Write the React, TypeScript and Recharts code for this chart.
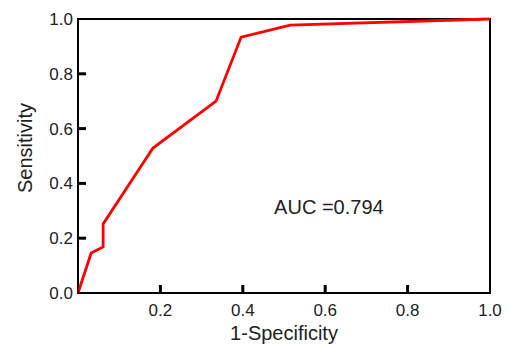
import { Label, Line, LineChart, ReferenceArea, ReferenceDot, XAxis, YAxis } from "recharts";

// ROC curve points
const fpr = [0, 0.032, 0.061, 0.061, 0.182, 0.335, 0.396, 0.515, 1];
const tpr = [0, 0.146, 0.168, 0.252, 0.529, 0.7, 0.934, 0.978, 1];

const xTicks = [0.2, 0.4, 0.6, 0.8, 1.0];
const yTicks = [0, 0.2, 0.4, 0.6, 0.8, 1.0];

const aucLabel = "AUC =0.794";
const aucPos = { x: 0.476, y: 0.29 };

const FONT = "'Liberation Sans', Arial, Helvetica, sans-serif";
const TEXT = "#222";
const TICK_LEN = 8;
const X_GAP = 11;
const Y_GAP = 5;

const data = fpr.map((x, i) => ({ x, y: tpr[i] }));

// tick label plus a short inward tick mark drawn from the axis line
function XTick({ x = 0, y = 0, payload }: any) {
  const axisY = y - X_GAP;
  const v = Number(payload?.value);
  return (
    <g>
      {v < 1 ? <line x1={x} x2={x} y1={axisY} y2={axisY - TICK_LEN} stroke="#000" strokeWidth={3} /> : null}
      <text x={x} y={y} dy="0.71em" textAnchor="middle" fill={TEXT} fontSize={17} fontFamily={FONT}>
        {v.toFixed(1)}
      </text>
    </g>
  );
}

function YTick({ x = 0, y = 0, payload }: any) {
  const axisX = x + Y_GAP;
  const v = Number(payload?.value);
  return (
    <g>
      {v > 0 && v < 1 ? <line x1={axisX} x2={axisX + TICK_LEN} y1={y} y2={y} stroke="#000" strokeWidth={3} /> : null}
      <text x={x} y={y} dy="0.355em" textAnchor="end" fill={TEXT} fontSize={17} fontFamily={FONT}>
        {v.toFixed(1)}
      </text>
    </g>
  );
}

export default function App() {
  return (
    <div style={{ position: "absolute", left: 0, top: 0, fontFamily: FONT }}>
      <LineChart width={507} height={345} data={data} margin={{ top: 19, right: 17, bottom: 0, left: 0 }}>
        <ReferenceArea x1={0} x2={1} y1={0} y2={1} stroke="#000" strokeWidth={2} fill="none" fillOpacity={0} />
        <XAxis
          dataKey="x"
          type="number"
          domain={[0, 1]}
          ticks={xTicks}
          height={52}
          tickSize={0}
          tickLine={false}
          tickMargin={X_GAP}
          stroke="#000"
          tick={<XTick />}
        >
          <Label value="1-Specificity" position="insideBottom" offset={5} fill={TEXT} fontSize={20} fontFamily={FONT} />
        </XAxis>
        <YAxis
          type="number"
          domain={[0, 1]}
          ticks={yTicks}
          width={78}
          tickSize={0}
          tickLine={false}
          tickMargin={Y_GAP}
          stroke="#000"
          tick={<YTick />}
        >
          <Label
            content={() => (
              <text
                x={25}
                y={148}
                transform="rotate(-90 25 148)"
                textAnchor="middle"
                dominantBaseline="central"
                fill={TEXT}
                fontSize={20}
                fontFamily={FONT}
              >
                Sensitivity
              </text>
            )}
          />
        </YAxis>
        <Line
          type="linear"
          dataKey="y"
          stroke="#ff0000"
          strokeWidth={2.8}
          dot={false}
          isAnimationActive={false}
        />
        <ReferenceDot
          x={aucPos.x}
          y={aucPos.y}
          r={0}
          stroke="none"
          fill="none"
          label={{
            content: (props: any) => {
              const vb = props.viewBox || {};
              const cx = (vb.x ?? 0) + (vb.width ?? 0) / 2;
              const cy = (vb.y ?? 0) + (vb.height ?? 0) / 2;
              return (
                <text x={cx} y={cy} textAnchor="start" fill={TEXT} fontSize={20} fontFamily={FONT}>
                  {aucLabel}
                </text>
              );
            },
          }}
        />
      </LineChart>
    </div>
  );
}
